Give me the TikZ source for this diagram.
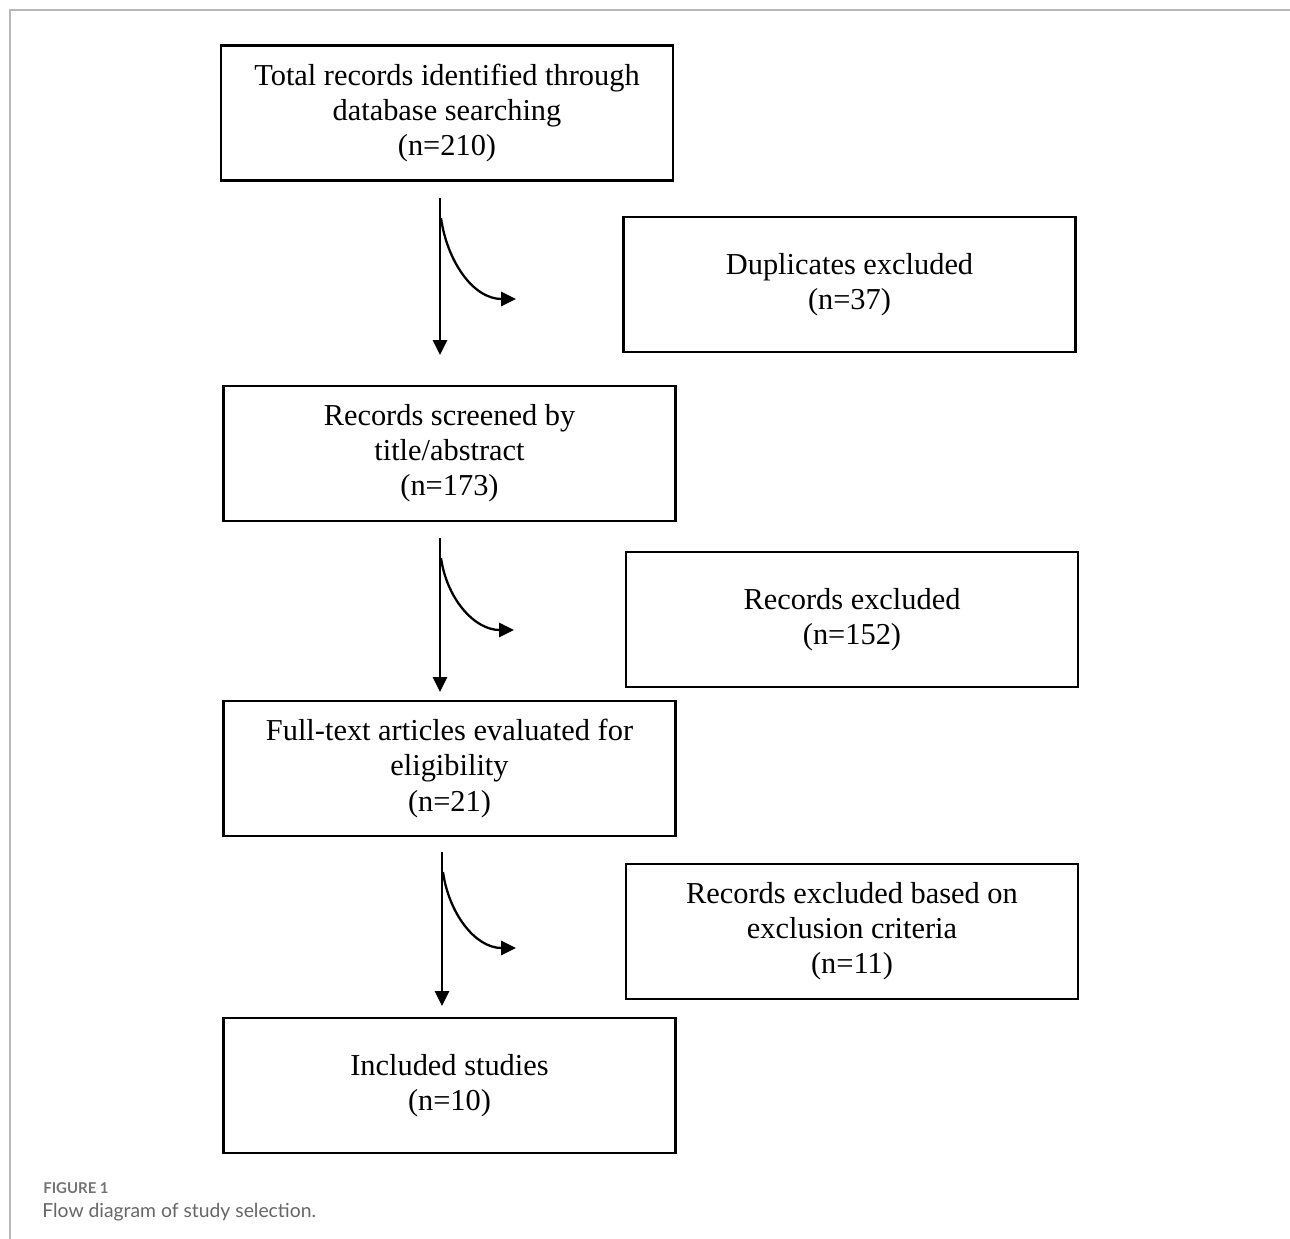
\documentclass[tikz,border=0pt]{standalone}
\usepackage{fontspec}
\setmainfont{Liberation Serif}
\newfontfamily\capfont{Lato}
\usetikzlibrary{arrows.meta,positioning}

\begin{document}
\begin{tikzpicture}[x=0.02cm,y=-0.02cm,
  box/.style={draw=black,line width=1.6pt,minimum width=9.04cm,minimum height=2.7cm,
    align=center,inner sep=0pt,font=\fontsize{17.3}{20}\selectfont},
  arr/.style={line width=1.3pt,-{Triangle[length=8.5pt,width=8pt]}}]
\useasboundingbox (0,0) rectangle (1290,1239);
% outer frame
\draw [black!28,line width=0.9pt] (10,1239) -- (10,10) -- (1290,10);
% boxes
\node [box] (total) at (447,113) {Total records identified through\\database searching\\(n=210)};
\node [box] (dup) at (849.5,284.5) {Duplicates excluded\\(n=37)};
\node [box] (screen) at (449.5,453.5) {Records screened by\\title/abstract\\(n=173)};
\node [box] (recex) at (852,619.5) {Records excluded\\(n=152)};
\node [box] (full) at (449.5,768.5) {Full-text articles evaluated for\\eligibility\\(n=21)};
\node [box] (critex) at (852,931.5) {Records excluded based on\\exclusion criteria\\(n=11)};
\node [box] (incl) at (449.5,1085.5) {Included studies\\(n=10)};
% arrow ends
\coordinate (s1) at (440,198);
\coordinate (e1) at (440,355);
\coordinate (b1) at (441,218);
\coordinate (t1) at (516,299);
\coordinate (s2) at (440,538);
\coordinate (e2) at (440,692);
\coordinate (b2) at (441,558);
\coordinate (t2) at (514,630);
\coordinate (s3) at (442,852);
\coordinate (e3) at (442,1006);
\coordinate (b3) at (443,872);
\coordinate (t3) at (516,948);
% arrows
\draw [arr] (s1) -- (e1);
\draw [arr] (b1) to[out=-82,in=180] (t1);
\draw [arr] (s2) -- (e2);
\draw [arr] (b2) to[out=-82,in=180] (t2);
\draw [arr] (s3) -- (e3);
\draw [arr] (b3) to[out=-82,in=180] (t3);
% caption
\node [anchor=base west,inner sep=0pt,text=black!55,font=\capfont\bfseries\fontsize{8.5}{10}\selectfont] (fig) at (43,1193) {FIGURE 1};
\node [anchor=base west,inner sep=0pt,text=black!60,font=\capfont\fontsize{11}{13}\selectfont] (cap) at (42,1217) {Flow diagram of study selection.};
\end{tikzpicture}
\end{document}
